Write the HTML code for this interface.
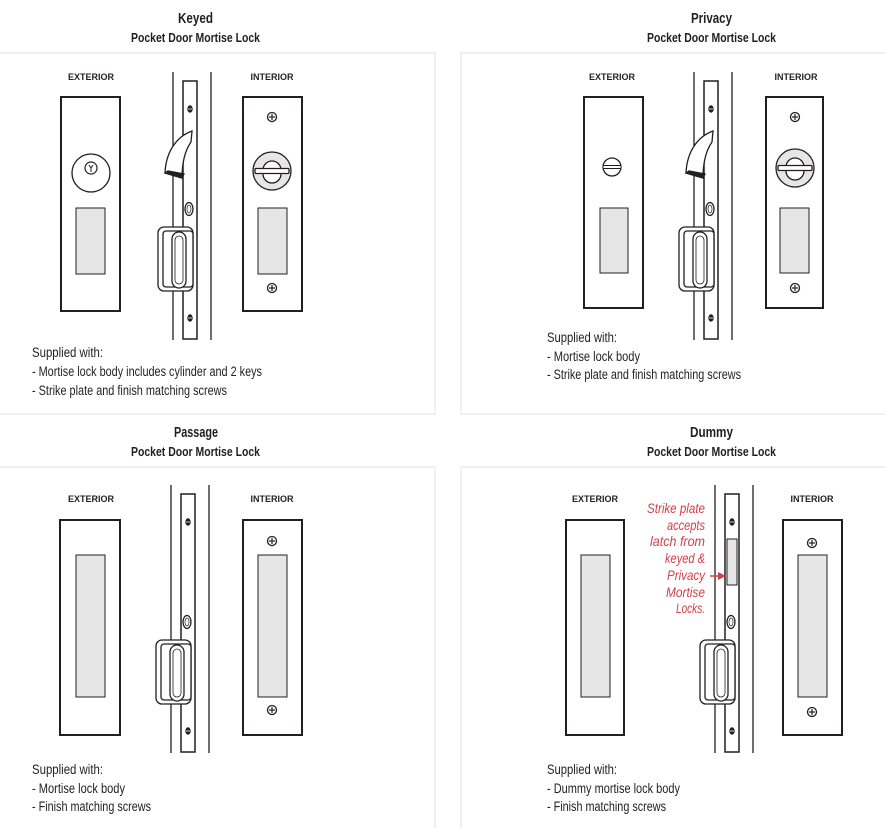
<!DOCTYPE html>
<html><head><meta charset="utf-8"><style>
html,body{margin:0;padding:0;background:#fff;}
svg{display:block;}
.t{font-family:"Liberation Sans Narrow","Liberation Sans",sans-serif;font-weight:bold;fill:#231f20;}
.s{font-family:"Liberation Sans Narrow","Liberation Sans",sans-serif;font-size:13.5px;fill:#231f20;}
.l{font-family:"Liberation Sans",sans-serif;font-weight:bold;font-size:9px;fill:#231f20;}
.r{font-family:"Liberation Sans Narrow","Liberation Sans",sans-serif;font-style:italic;font-size:14px;fill:#d2404a;}
</style></head><body>
<svg width="885" height="828" viewBox="0 0 885 828" xmlns="http://www.w3.org/2000/svg">
<defs>
<g id="screw"><circle r="4.5" fill="#fff" stroke="#231f20" stroke-width="1.3"/><line x1="-3" y1="0" x2="3" y2="0" stroke="#231f20" stroke-width="1.2"/><line x1="0" y1="-3" x2="0" y2="3" stroke="#231f20" stroke-width="1.2"/></g>
<g id="fscrew"><ellipse rx="2.2" ry="3.2" fill="#231f20"/><line x1="-2" y1="0" x2="2" y2="0" stroke="#fff" stroke-width="0.8"/></g>
<g id="pull" fill="#fff" stroke="#231f20" stroke-width="1.3">
<rect x="158" y="227" width="35" height="64" rx="6"/>
<rect x="163" y="231" width="30" height="56" rx="3"/>
<rect x="172" y="232" width="14" height="56" rx="7"/>
<rect x="175" y="236" width="8" height="48" rx="4" fill="none" stroke-width="0.8"/>
</g>
<g id="hook" fill="#fff" stroke="#231f20" stroke-width="1.3">
<path d="M192,131 C178,136 166,150 165,173 L182,178 C182,165 184,152 191,142 Z"/>
<path d="M165,173 L182,178 L184,174 L168,171 Z" fill="#231f20"/>
</g>
<g id="mortise" fill="none" stroke="#231f20">
<line x1="173" y1="72" x2="173" y2="340" stroke-width="1.3"/>
<line x1="211" y1="72" x2="211" y2="340" stroke-width="1.3"/>
<rect x="183" y="81" width="14" height="258" fill="#fff" stroke-width="1.5"/>
<use href="#fscrew" x="190" y="109"/>
<use href="#fscrew" x="190" y="318"/>
<ellipse cx="189" cy="209" rx="4" ry="6.5" fill="#fff" stroke-width="1.3"/>
<ellipse cx="189" cy="209" rx="2" ry="4" stroke-width="0.7"/>
<use href="#pull"/>
</g>
<g id="turn" stroke="#231f20" stroke-width="1.3">
<circle r="19" fill="#e6e6e7"/>
<path d="M-9,-1 A9,9 0 0 1 9,-1" fill="#fff"/>
<path d="M-9,3 A9,9 0 0 0 9,3" fill="#fff"/>
<rect x="-17" y="-2.5" width="34" height="5" rx="1" fill="#fff"/>
</g>
</defs>

<g fill="none" stroke="#ececec" stroke-width="1.5">
<rect x="-2" y="53" width="437" height="361"/>
<rect x="461" y="53" width="426" height="361"/>
<rect x="-2" y="467" width="437" height="363"/>
<rect x="461" y="467" width="426" height="363"/>
</g>

<text class="t" x="178" y="23" font-size="15" textLength="35" lengthAdjust="spacingAndGlyphs">Keyed</text>
<text class="t" x="131" y="42" font-size="12.5" textLength="129" lengthAdjust="spacingAndGlyphs">Pocket Door Mortise Lock</text>
<text class="t" x="691" y="23" font-size="15" textLength="41" lengthAdjust="spacingAndGlyphs">Privacy</text>
<text class="t" x="647" y="42" font-size="12.5" textLength="129" lengthAdjust="spacingAndGlyphs">Pocket Door Mortise Lock</text>
<text class="t" x="174" y="437" font-size="15" textLength="44" lengthAdjust="spacingAndGlyphs">Passage</text>
<text class="t" x="131" y="456" font-size="12.5" textLength="129" lengthAdjust="spacingAndGlyphs">Pocket Door Mortise Lock</text>
<text class="t" x="690" y="437" font-size="15" textLength="43" lengthAdjust="spacingAndGlyphs">Dummy</text>
<text class="t" x="647" y="456" font-size="12.5" textLength="129" lengthAdjust="spacingAndGlyphs">Pocket Door Mortise Lock</text>

<!-- KEYED -->
<text class="l" x="91" y="80" text-anchor="middle">EXTERIOR</text>
<text class="l" x="272" y="80" text-anchor="middle">INTERIOR</text>
<rect x="61" y="97" width="59" height="214" fill="#fff" stroke="#231f20" stroke-width="2"/>
<circle cx="91" cy="173" r="19" fill="#fff" stroke="#231f20" stroke-width="1.3"/>
<circle cx="91" cy="168" r="6" fill="#fff" stroke="#231f20" stroke-width="1.2"/>
<path d="M89,165 L91,168 L93,165 M91,168 L91,172" stroke="#231f20" stroke-width="1" fill="none"/>
<rect x="76" y="208" width="29" height="66" fill="#e6e6e7" stroke="#231f20" stroke-width="1"/>
<use href="#mortise"/>
<use href="#hook"/>
<rect x="243" y="97" width="59" height="214" fill="#fff" stroke="#231f20" stroke-width="2"/>
<use href="#screw" x="272" y="117"/>
<use href="#screw" x="272" y="288"/>
<use href="#turn" x="272" y="171"/>
<rect x="258" y="208" width="29" height="66" fill="#e6e6e7" stroke="#231f20" stroke-width="1"/>
<text class="s" x="32" y="357" textLength="71" lengthAdjust="spacingAndGlyphs">Supplied with:</text>
<text class="s" x="32" y="376" textLength="230" lengthAdjust="spacingAndGlyphs">- Mortise lock body includes cylinder and 2 keys</text>
<text class="s" x="32" y="395" textLength="195" lengthAdjust="spacingAndGlyphs">- Strike plate and finish matching screws</text>

<!-- PRIVACY -->
<text class="l" x="612" y="80" text-anchor="middle">EXTERIOR</text>
<text class="l" x="796" y="80" text-anchor="middle">INTERIOR</text>
<rect x="584" y="97" width="59" height="211" fill="#fff" stroke="#231f20" stroke-width="2"/>
<circle cx="612" cy="167" r="9" fill="#fff" stroke="#231f20" stroke-width="1.3"/>
<rect x="603" y="165.5" width="18" height="3" fill="#fff" stroke="#231f20" stroke-width="1"/>
<rect x="600" y="208" width="28" height="65" fill="#e6e6e7" stroke="#231f20" stroke-width="1"/>
<g transform="translate(521,0)"><use href="#mortise"/><use href="#hook"/></g>
<rect x="766" y="97" width="57" height="211" fill="#fff" stroke="#231f20" stroke-width="2"/>
<use href="#screw" x="795" y="117"/>
<use href="#screw" x="795" y="288"/>
<use href="#turn" x="795" y="168"/>
<rect x="780" y="208" width="29" height="65" fill="#e6e6e7" stroke="#231f20" stroke-width="1"/>
<text class="s" x="547" y="342" textLength="70" lengthAdjust="spacingAndGlyphs">Supplied with:</text>
<text class="s" x="547" y="361" textLength="93" lengthAdjust="spacingAndGlyphs">- Mortise lock body</text>
<text class="s" x="547" y="379" textLength="194" lengthAdjust="spacingAndGlyphs">- Strike plate and finish matching screws</text>

<!-- PASSAGE -->
<text class="l" x="91" y="502" text-anchor="middle">EXTERIOR</text>
<text class="l" x="272" y="502" text-anchor="middle">INTERIOR</text>
<rect x="60" y="520" width="60" height="215" fill="#fff" stroke="#231f20" stroke-width="2"/>
<rect x="76" y="555" width="29" height="142" fill="#e6e6e7" stroke="#231f20" stroke-width="1"/>
<g transform="translate(-2,413)"><use href="#mortise"/></g>
<rect x="243" y="520" width="59" height="215" fill="#fff" stroke="#231f20" stroke-width="2"/>
<use href="#screw" x="272" y="541"/>
<use href="#screw" x="272" y="710"/>
<rect x="258" y="555" width="29" height="142" fill="#e6e6e7" stroke="#231f20" stroke-width="1"/>
<text class="s" x="32" y="774" textLength="71" lengthAdjust="spacingAndGlyphs">Supplied with:</text>
<text class="s" x="32" y="793" textLength="93" lengthAdjust="spacingAndGlyphs">- Mortise lock body</text>
<text class="s" x="32" y="811" textLength="119" lengthAdjust="spacingAndGlyphs">- Finish matching screws</text>

<!-- DUMMY -->
<text class="l" x="595" y="502" text-anchor="middle">EXTERIOR</text>
<text class="l" x="812" y="502" text-anchor="middle">INTERIOR</text>
<rect x="566" y="520" width="58" height="215" fill="#fff" stroke="#231f20" stroke-width="2"/>
<rect x="581" y="555" width="29" height="142" fill="#e6e6e7" stroke="#231f20" stroke-width="1"/>
<g transform="translate(542,413)"><use href="#mortise"/></g>
<rect x="727" y="539" width="10" height="46" fill="#e6e6e7" stroke="#231f20" stroke-width="1"/>
<rect x="783" y="520" width="59" height="215" fill="#fff" stroke="#231f20" stroke-width="2"/>
<use href="#screw" x="812" y="543"/>
<use href="#screw" x="812" y="712"/>
<rect x="798" y="555" width="29" height="142" fill="#e6e6e7" stroke="#231f20" stroke-width="1"/>
<g class="r">
<text x="647" y="513" textLength="58" lengthAdjust="spacingAndGlyphs">Strike plate</text>
<text x="667" y="530" textLength="38" lengthAdjust="spacingAndGlyphs">accepts</text>
<text x="650" y="546" textLength="55" lengthAdjust="spacingAndGlyphs">latch from</text>
<text x="665" y="563" textLength="40" lengthAdjust="spacingAndGlyphs">keyed &amp;</text>
<text x="667" y="580" textLength="38" lengthAdjust="spacingAndGlyphs">Privacy</text>
<text x="666" y="597" textLength="39" lengthAdjust="spacingAndGlyphs">Mortise</text>
<text x="676" y="613" textLength="29" lengthAdjust="spacingAndGlyphs">Locks.</text>
</g>
<line x1="710" y1="576" x2="719" y2="576" stroke="#d2404a" stroke-width="1.5"/>
<path d="M726,576 L718,572 L718,580 Z" fill="#d2404a"/>
<text class="s" x="547" y="774" textLength="70" lengthAdjust="spacingAndGlyphs">Supplied with:</text>
<text class="s" x="547" y="793" textLength="133" lengthAdjust="spacingAndGlyphs">- Dummy mortise lock body</text>
<text class="s" x="547" y="811" textLength="119" lengthAdjust="spacingAndGlyphs">- Finish matching screws</text>
</svg>
</body></html>
